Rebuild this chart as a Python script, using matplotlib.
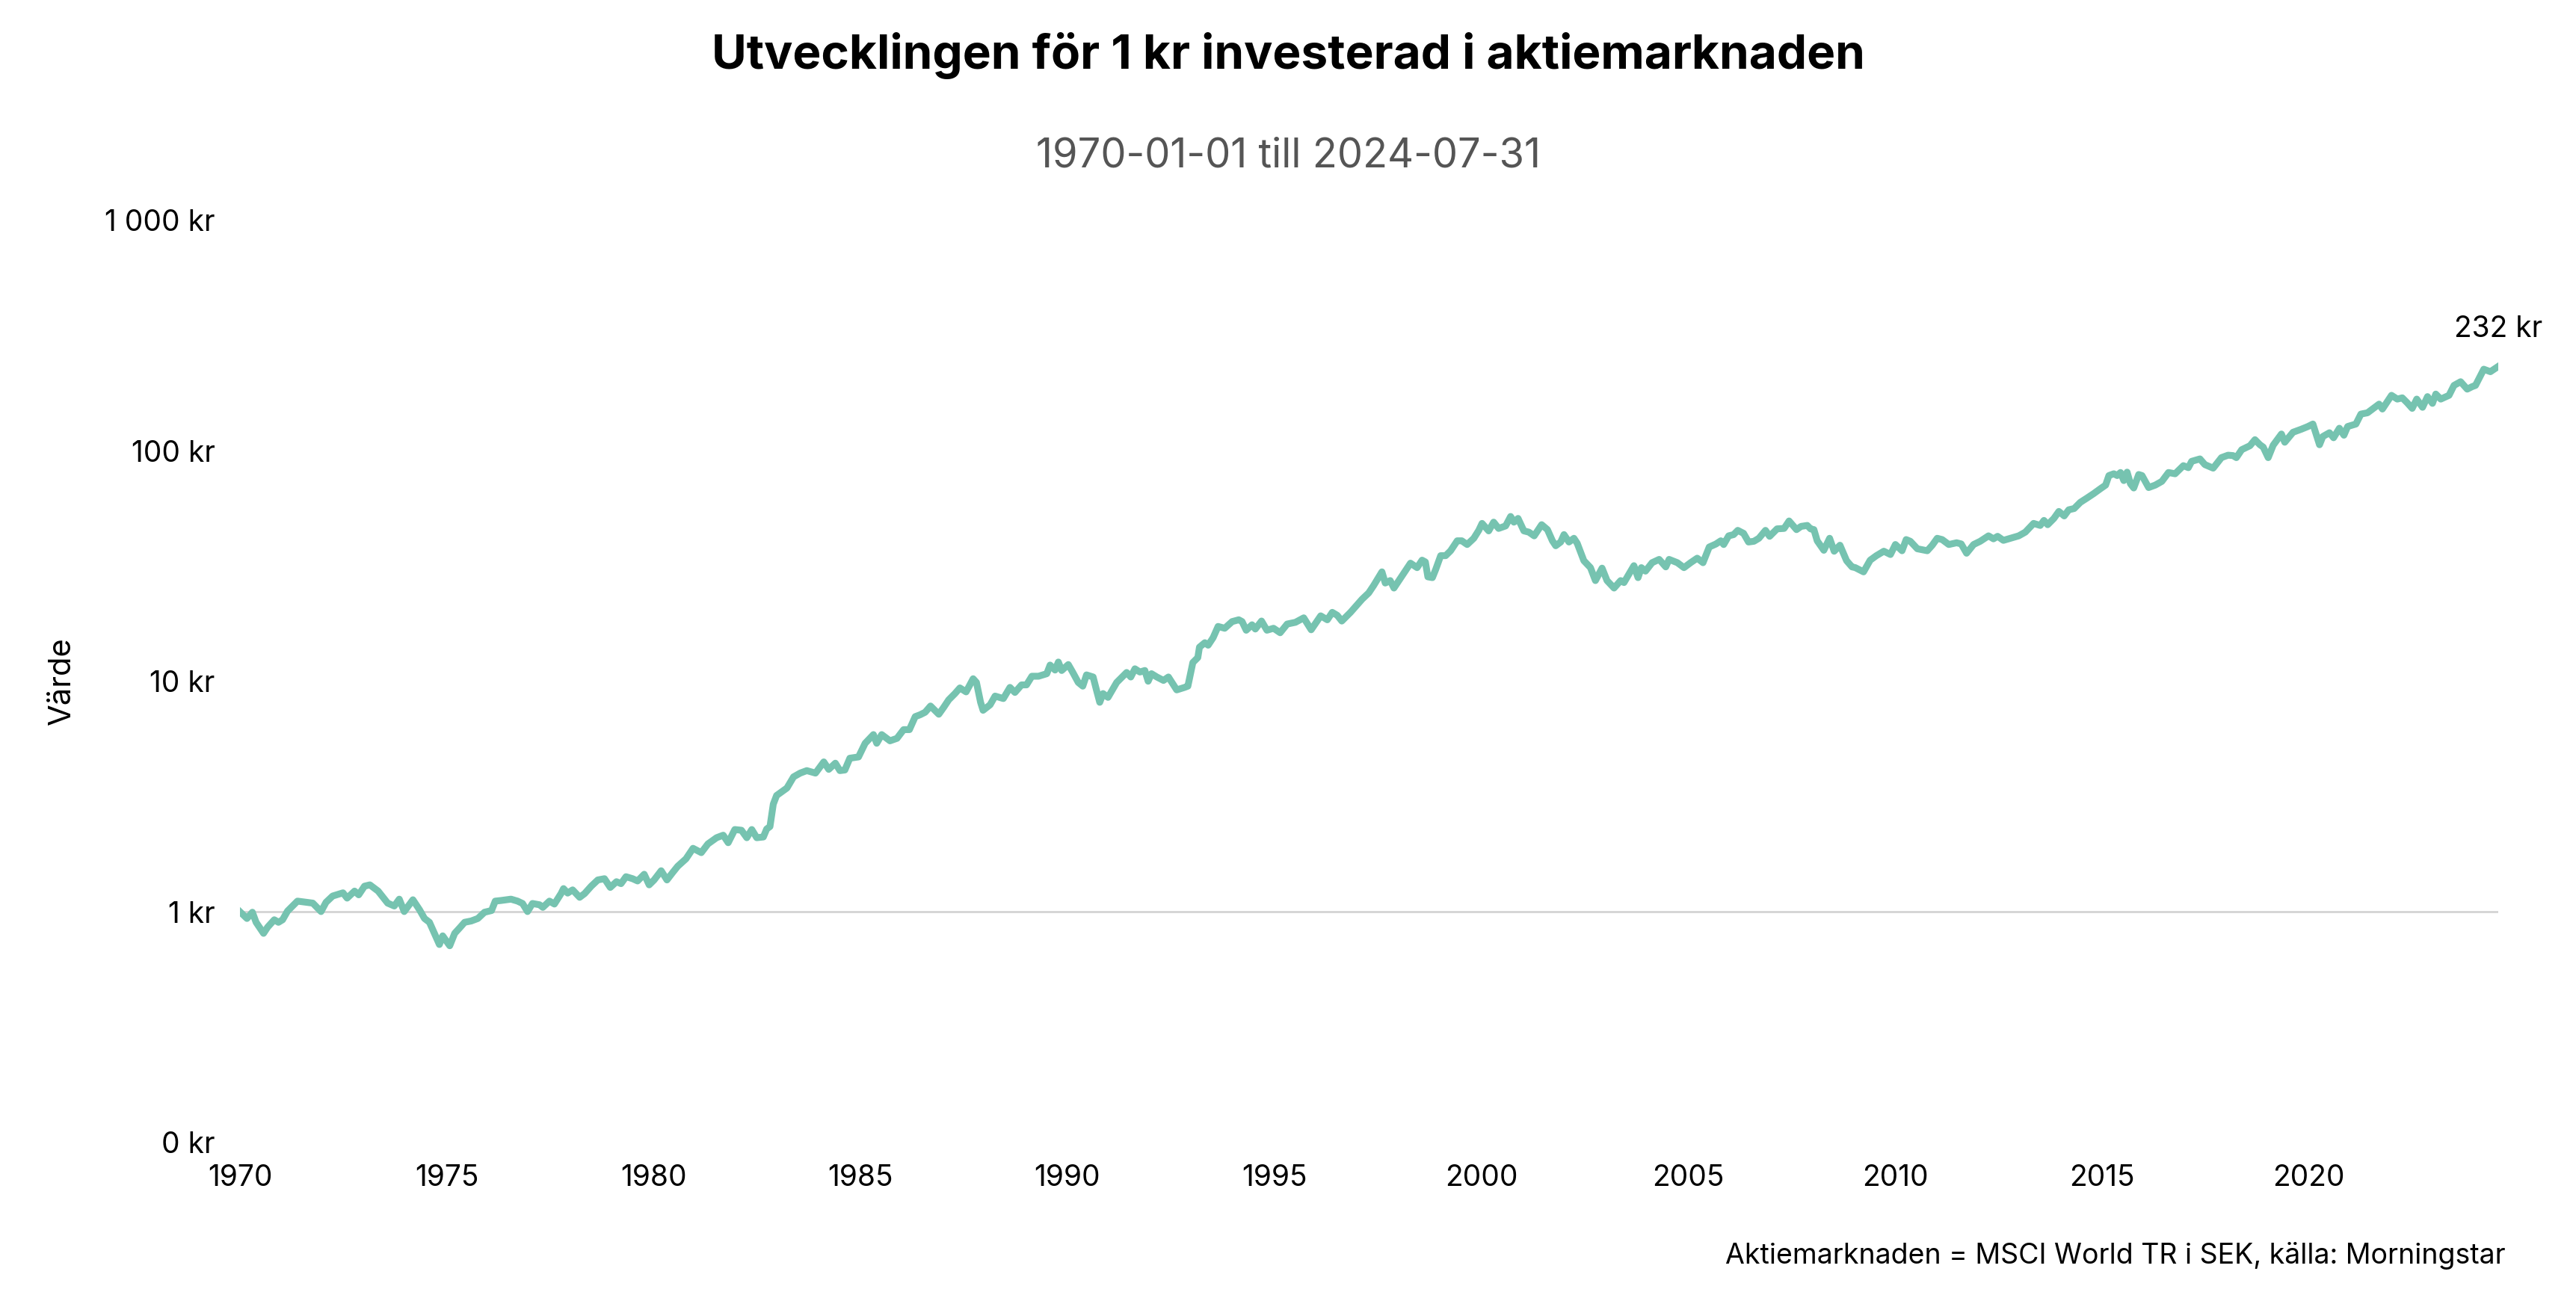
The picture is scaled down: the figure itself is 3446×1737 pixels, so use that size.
import matplotlib
matplotlib.use("Agg")
import matplotlib.pyplot as plt

plt.rcParams['font.family'] = ['Inter', 'DejaVu Sans']

# Monthly-ish readings of the value of 1 kr (decimal year, kr)
years = [
    1970.00, 1970.17, 1970.30, 1970.39, 1970.57, 1970.67, 1970.83, 1970.93, 1971.03, 1971.15,
    1971.39, 1971.60, 1971.76, 1971.96, 1972.08, 1972.24, 1972.49, 1972.59, 1972.77, 1972.87,
    1973.01, 1973.14, 1973.34, 1973.46, 1973.57, 1973.73, 1973.85, 1973.97, 1974.18, 1974.34,
    1974.46, 1974.58, 1974.82, 1974.90, 1975.07, 1975.19, 1975.31, 1975.43, 1975.59, 1975.75,
    1975.91, 1976.08, 1976.17, 1976.31, 1976.55, 1976.71, 1976.83, 1976.95, 1977.07, 1977.24,
    1977.32, 1977.48, 1977.60, 1977.76, 1977.82, 1977.92, 1978.04, 1978.21, 1978.33, 1978.49,
    1978.65, 1978.81, 1978.95, 1979.10, 1979.21, 1979.33, 1979.49, 1979.61, 1979.77, 1979.89,
    1980.01, 1980.18, 1980.32, 1980.46, 1980.58, 1980.78, 1980.95, 1981.15, 1981.31, 1981.52,
    1981.68, 1981.80, 1981.96, 1982.12, 1982.25, 1982.37, 1982.49, 1982.65, 1982.73, 1982.81,
    1982.89, 1982.97, 1983.22, 1983.38, 1983.54, 1983.70, 1983.91, 1984.11, 1984.23, 1984.39,
    1984.50, 1984.62, 1984.74, 1984.95, 1985.11, 1985.31, 1985.39, 1985.51, 1985.71, 1985.88,
    1986.04, 1986.18, 1986.32, 1986.44, 1986.56, 1986.69, 1986.89, 1987.01, 1987.13, 1987.28,
    1987.40, 1987.55, 1987.72, 1987.80, 1987.90, 1987.96, 1988.13, 1988.25, 1988.45, 1988.61,
    1988.73, 1988.89, 1989.01, 1989.14, 1989.30, 1989.50, 1989.58, 1989.70, 1989.78, 1989.86,
    1990.02, 1990.13, 1990.26, 1990.37, 1990.46, 1990.62, 1990.70, 1990.78, 1990.86, 1990.98,
    1991.19, 1991.43, 1991.53, 1991.63, 1991.75, 1991.87, 1991.95, 1992.03, 1992.16, 1992.32,
    1992.44, 1992.64, 1992.83, 1992.91, 1993.03, 1993.15, 1993.19, 1993.32, 1993.40, 1993.52,
    1993.64, 1993.80, 1993.98, 1994.14, 1994.22, 1994.32, 1994.46, 1994.54, 1994.69, 1994.82,
    1994.98, 1995.14, 1995.31, 1995.51, 1995.71, 1995.89, 1996.12, 1996.28, 1996.40, 1996.52,
    1996.63, 1996.84, 1996.96, 1997.12, 1997.28, 1997.40, 1997.60, 1997.68, 1997.80, 1997.89,
    1998.01, 1998.17, 1998.29, 1998.45, 1998.57, 1998.65, 1998.71, 1998.82, 1998.90, 1999.02,
    1999.14, 1999.26, 1999.42, 1999.53, 1999.66, 1999.82, 1999.94, 2000.02, 2000.18, 2000.30,
    2000.42, 2000.59, 2000.71, 2000.79, 2000.89, 2001.03, 2001.15, 2001.28, 2001.46, 2001.60,
    2001.72, 2001.80, 2001.92, 2002.00, 2002.12, 2002.24, 2002.32, 2002.48, 2002.64, 2002.76,
    2002.92, 2003.04, 2003.21, 2003.37, 2003.45, 2003.69, 2003.79, 2003.87, 2003.97, 2004.13,
    2004.30, 2004.46, 2004.54, 2004.74, 2004.90, 2005.06, 2005.22, 2005.36, 2005.51, 2005.67,
    2005.79, 2005.86, 2005.98, 2006.10, 2006.20, 2006.34, 2006.46, 2006.59, 2006.71, 2006.87,
    2006.97, 2007.15, 2007.32, 2007.44, 2007.62, 2007.73, 2007.88, 2007.96, 2008.04, 2008.12,
    2008.28, 2008.42, 2008.53, 2008.67, 2008.83, 2008.96, 2009.04, 2009.24, 2009.40, 2009.55,
    2009.73, 2009.89, 2010.01, 2010.17, 2010.27, 2010.37, 2010.54, 2010.78, 2010.90, 2011.02,
    2011.14, 2011.30, 2011.49, 2011.60, 2011.73, 2011.90, 2012.06, 2012.26, 2012.38, 2012.48,
    2012.62, 2012.83, 2012.99, 2013.15, 2013.35, 2013.51, 2013.60, 2013.69, 2013.84, 2013.96,
    2014.09, 2014.20, 2014.33, 2014.48, 2014.64, 2014.80, 2014.97, 2015.09, 2015.17, 2015.29,
    2015.37, 2015.45, 2015.53, 2015.61, 2015.69, 2015.77, 2015.89, 2015.97, 2016.13, 2016.29,
    2016.45, 2016.61, 2016.77, 2016.97, 2017.09, 2017.17, 2017.37, 2017.49, 2017.69, 2017.89,
    2018.05, 2018.17, 2018.25, 2018.38, 2018.58, 2018.70, 2018.82, 2018.90, 2019.02, 2019.14,
    2019.34, 2019.42, 2019.62, 2019.82, 2019.98, 2020.10, 2020.26, 2020.34, 2020.50, 2020.60,
    2020.74, 2020.85, 2020.94, 2021.14, 2021.26, 2021.42, 2021.70, 2021.78, 2022.00, 2022.14,
    2022.26, 2022.38, 2022.50, 2022.61, 2022.75, 2022.87, 2022.99, 2023.07, 2023.19, 2023.39,
    2023.51, 2023.67, 2023.83, 2023.95, 2024.03, 2024.23, 2024.39, 2024.58,
]
value_kr = [
    1.000, 0.935, 0.995, 0.900, 0.806, 0.858, 0.923, 0.900, 0.923, 1.007,
    1.112, 1.099, 1.090, 1.002, 1.099, 1.170, 1.208, 1.146, 1.229, 1.184,
    1.291, 1.308, 1.229, 1.155, 1.090, 1.059, 1.134, 1.002, 1.127, 1.020,
    0.935, 0.900, 0.721, 0.786, 0.712, 0.806, 0.851, 0.900, 0.912, 0.935,
    0.995, 1.012, 1.112, 1.119, 1.134, 1.112, 1.086, 1.002, 1.086, 1.072,
    1.045, 1.112, 1.080, 1.199, 1.260, 1.205, 1.244, 1.155, 1.199, 1.291,
    1.374, 1.391, 1.275, 1.350, 1.324, 1.419, 1.391, 1.360, 1.454, 1.308,
    1.374, 1.506, 1.374, 1.481, 1.575, 1.697, 1.884, 1.805, 1.969, 2.095,
    2.148, 1.993, 2.273, 2.257, 2.095, 2.273, 2.095, 2.110, 2.285, 2.342,
    2.930, 3.194, 3.441, 3.847, 3.994, 4.094, 3.994, 4.466, 4.146, 4.410,
    4.094, 4.120, 4.634, 4.694, 5.380, 5.867, 5.380, 5.867, 5.514, 5.652,
    6.166, 6.166, 7.020, 7.154, 7.334, 7.805, 7.190, 7.710, 8.305, 8.838,
    9.350, 8.990, 10.25, 9.880, 8.100, 7.480, 7.900, 8.620, 8.410, 9.400,
    8.940, 9.640, 9.640, 10.51, 10.51, 10.78, 11.75, 11.18, 12.11, 11.13,
    11.81, 10.91, 9.880, 9.520, 10.65, 10.43, 9.170, 8.100, 8.838, 8.510,
    9.880, 10.91, 10.43, 11.32, 10.96, 11.13, 10.00, 10.78, 10.43, 10.08,
    10.43, 9.170, 9.400, 9.520, 12.05, 12.66, 14.05, 14.69, 14.33, 15.45,
    17.28, 16.97, 18.14, 18.47, 18.14, 16.64, 17.57, 16.84, 18.24, 16.64,
    16.97, 16.23, 17.70, 18.01, 18.83, 16.72, 19.21, 18.47, 19.89, 19.31,
    18.24, 19.89, 21.05, 22.68, 24.15, 26.01, 29.81, 26.66, 27.32, 25.36,
    27.32, 30.19, 32.51, 31.09, 33.50, 32.91, 28.36, 28.14, 30.55, 35.04,
    35.04, 36.81, 40.65, 40.65, 39.17, 41.68, 45.12, 48.36, 44.89, 48.97,
    46.00, 47.17, 51.83, 48.97, 50.82, 44.89, 44.33, 42.71, 47.75, 45.46,
    40.65, 38.69, 40.16, 43.25, 40.16, 41.68, 39.64, 33.33, 31.09, 27.32,
    30.94, 27.32, 25.36, 27.32, 26.79, 31.71, 28.14, 31.09, 30.03, 32.67,
    33.76, 31.33, 33.76, 32.67, 31.09, 32.67, 34.17, 32.67, 38.20, 39.35,
    40.65, 39.17, 42.71, 43.25, 45.12, 43.80, 40.16, 40.46, 41.68, 45.12,
    42.51, 45.80, 46.00, 49.56, 45.46, 46.94, 47.39, 45.80, 45.46, 40.65,
    36.98, 41.68, 36.63, 38.89, 33.33, 31.33, 31.09, 29.81, 33.50, 35.04,
    36.63, 35.45, 39.17, 36.81, 41.15, 40.46, 37.54, 36.81, 38.89, 41.68,
    41.15, 39.17, 39.86, 39.40, 35.91, 39.17, 40.46, 42.71, 41.46, 42.51,
    40.83, 41.88, 42.71, 44.33, 48.36, 47.39, 49.83, 47.75, 50.82, 54.50,
    52.12, 55.41, 56.11, 59.70, 62.30, 65.10, 68.50, 70.90, 78.00, 79.40,
    78.00, 80.40, 74.20, 80.70, 71.90, 68.90, 78.80, 78.00, 69.20, 70.90,
    73.60, 80.40, 79.40, 86.10, 84.40, 89.90, 92.10, 87.00, 84.00, 93.30,
    95.60, 95.20, 93.30, 101.0, 105.1, 111.6, 106.1, 103.6, 93.30, 105.6,
    118.1, 108.8, 120.2, 123.9, 127.3, 130.5, 106.1, 115.2, 119.6, 113.8,
    125.1, 116.7, 127.3, 130.5, 144.1, 146.0, 159.2, 151.6, 173.8, 167.4,
    169.5, 161.3, 152.6, 167.4, 154.2, 171.6, 160.4, 176.0, 167.4, 173.8,
    191.9, 199.1, 184.9, 189.6, 191.9, 225.6, 220.1, 232.0,
]

y_ticks = [0.1, 1, 10, 100, 1000]
y_tick_labels = ["0 kr", "1 kr", "10 kr", "100 kr", "1 000 kr"]
x_ticks = [1970, 1975, 1980, 1985, 1990, 1995, 2000, 2005, 2010, 2015, 2020]

LINE_COLOR = "#76c3b0"

fig = plt.figure(figsize=(17.23, 8.685), dpi=200)
ax = fig.add_axes([0.09315, 0.11997, 0.87667, 0.71043])

# reference line at the starting value
ax.axhline(1, color="#d4d4d4", linewidth=1.0, zorder=1)
ax.plot(years, value_kr, color=LINE_COLOR, linewidth=3.3, solid_joinstyle="round", zorder=3)

ax.set_yscale("log")
ax.set_xlim(1970, years[-1])
ax.set_ylim(0.1, 1000)
ax.set_yticks(y_ticks)
ax.set_yticklabels(y_tick_labels)
ax.yaxis.set_minor_locator(matplotlib.ticker.NullLocator())
ax.set_xticks(x_ticks)
ax.set_xticklabels([str(x) for x in x_ticks])
ax.tick_params(axis="both", length=0, labelsize=14, colors="black")
ax.tick_params(axis="y", pad=12)
ax.tick_params(axis="x", pad=10.5)
for spine in ax.spines.values():
    spine.set_visible(False)

# end value label
ax.annotate(f"{value_kr[-1]:.0f} kr", xy=(years[-1], value_kr[-1]), xytext=(0, 14),
            textcoords="offset points", ha="center", va="baseline", fontsize=14)

fig.text(0.5, 0.947, "Utvecklingen för 1 kr investerad i aktiemarknaden",
         ha="center", va="baseline", fontsize=23, fontweight="bold")
fig.text(0.5, 0.8716, "1970-01-01 till 2024-07-31", ha="center", va="baseline",
         fontsize=19.5, color="#555555")
fig.text(0.0241, 0.4752, "Värde", rotation=90, ha="center", va="center", fontsize=15)
fig.text(0.9727, 0.0267, "Aktiemarknaden = MSCI World TR i SEK, källa: Morningstar",
         ha="right", va="baseline", fontsize=13.5)

fig.savefig("out.png", dpi=200)
